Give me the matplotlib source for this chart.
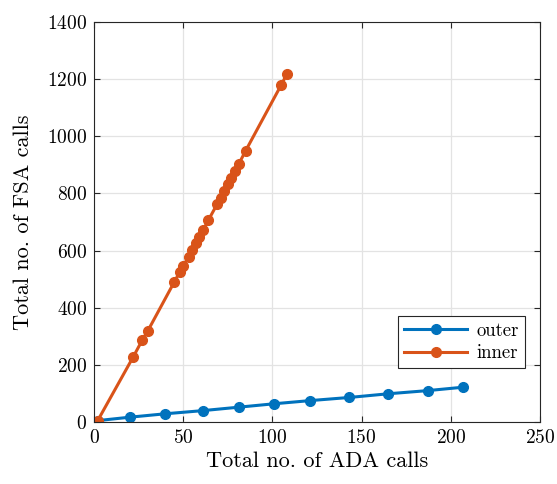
import numpy as np
import matplotlib.pyplot as plt

plt.rcParams['font.family'] = 'serif'
plt.rcParams['font.serif'] = ['cmr10']
plt.rcParams['mathtext.fontset'] = 'cm'
plt.rcParams['axes.formatter.use_mathtext'] = True

# outer loop: (ADA calls, FSA calls)
outer_ada = [2, 20, 40, 61, 81, 101, 121, 143, 165, 187, 207]
outer_fsa = [5, 17, 29, 40, 52, 64, 75, 86, 99, 110, 122]

# inner loop
inner_ada = [2, 22, 27, 30, 45, 48, 50, 53, 55, 57, 59, 61, 64, 69, 71, 73, 75, 77, 79, 81, 85, 105, 108]
inner_fsa = [5, 229, 287, 318, 491, 525, 546, 579, 601, 625, 649, 671, 706, 763, 785, 807, 833, 855, 878, 902, 950, 1181, 1217]

blue = '#0072BD'
orange = '#D95319'

fig = plt.figure(figsize=(5.57, 4.84), dpi=100)
ax = fig.add_axes([0.169, 0.128, 0.8005, 0.8265])

ax.plot(outer_ada, outer_fsa, '-o', color=blue, lw=2.2, ms=7, label='outer')
ax.plot(inner_ada, inner_fsa, '-o', color=orange, lw=2.2, ms=7, label='inner')

ax.set_xlim(0, 250)
ax.set_ylim(0, 1400)
ax.set_xticks(np.arange(0, 251, 50))
ax.set_yticks(np.arange(0, 1401, 200))
ax.grid(True, color='#e3e3e3', lw=0.9)
ax.set_axisbelow(True)
ax.tick_params(direction='in', top=True, right=True, labelsize=14, length=4, color='#262626', pad=5)
for s in ax.spines.values():
    s.set_color('#262626')
    s.set_linewidth(0.8)

ax.set_xlabel('Total no. of ADA calls', fontsize=16, labelpad=3)
ax.set_ylabel('Total no. of FSA calls', fontsize=16, labelpad=10)

leg = ax.legend(loc='lower right', bbox_to_anchor=(0.966, 0.135), borderaxespad=0, fontsize=13.5,
                fancybox=False, framealpha=1, edgecolor='#262626',
                handlelength=3.4, borderpad=0.3, labelspacing=0.25, handletextpad=0.5)
leg.get_frame().set_linewidth(0.8)

fig.savefig('out.png', dpi=100)
